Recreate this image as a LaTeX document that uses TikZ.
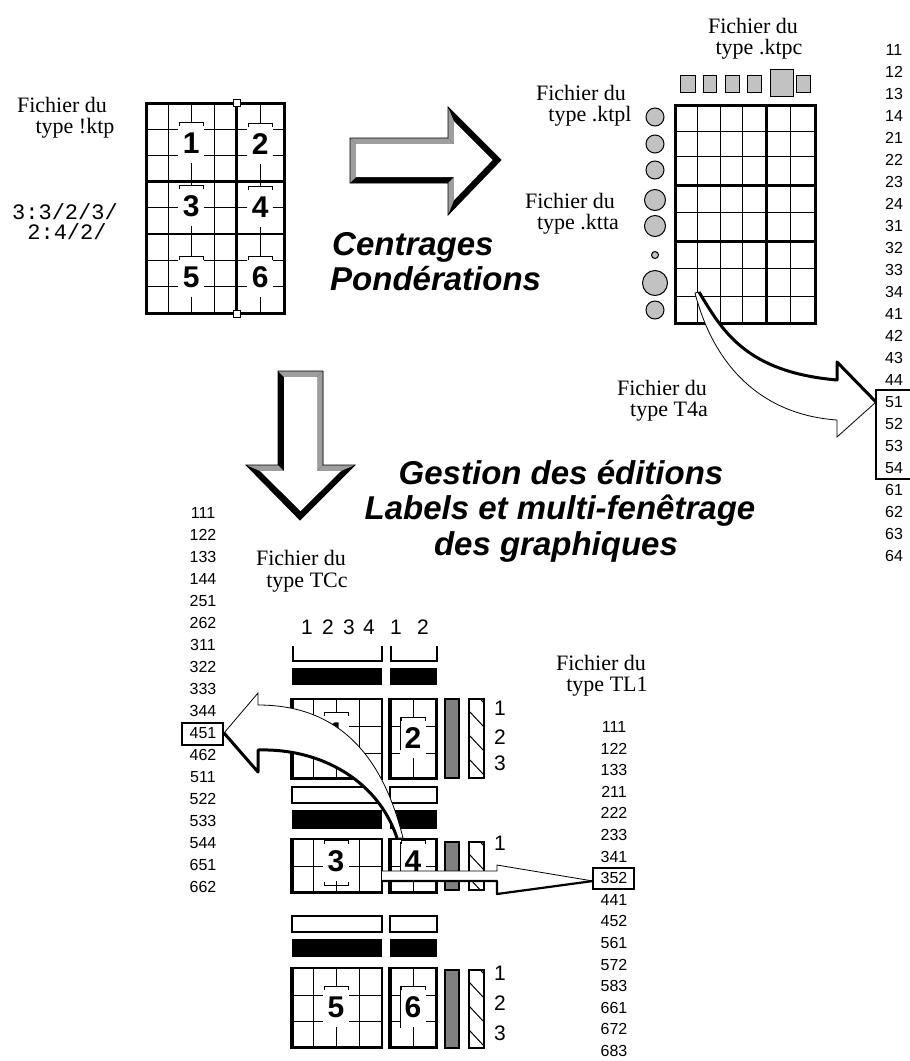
\documentclass[tikz,border=0pt]{standalone}
\usepackage{fontspec}
\setmainfont{Liberation Serif}
\setsansfont{Liberation Sans}
\setmonofont{Liberation Mono}
\definecolor{bevel}{gray}{0.62}
\definecolor{lgray}{gray}{0.76}
\definecolor{dgray}{gray}{0.5}
\newcommand{\gridlab}[4]{%
  \fill[white] (#2-13,#3-21) rectangle (#2+13,#3+20);
  \draw[line width=1pt] (#2-12,#3-17) -- (#2-12,#3-21) -- (#2+12,#3-21) -- (#2+12,#3-17);
  \node[lab] (#1) at (#2,#3) {#4};}
\newcommand{\hatchbar}[4]{%
  \fill[white] (#1,#2) rectangle (#3,#4);
  \begin{scope}\clip (#1,#2) rectangle (#3,#4);
  \foreach \k in {0,...,5} \draw[line width=1pt] (#1,#2-12+\k*24) -- ++(16,17);
  \end{scope}
  \draw[line width=1.2pt] (#1,#2) rectangle (#3,#4);}
\newcommand{\dotbar}[4]{\filldraw[fill=dgray, line width=1.2pt] (#1,#2) rectangle (#3,#4);}
\newcommand{\tcpanel}[4]{%
  \draw[line width=1.2pt] (#1,#3) rectangle (#2,#4);
  \draw[line width=3pt] (#1+1,#3) -- (#1+1,#4-1) -- (#2,#4-1);}
\begin{document}
\begin{tikzpicture}[x=1pt,y=-1pt,
  fich/.style={font=\fontsize{22}{21}\selectfont, inner sep=0, anchor=base},
  num/.style={font=\sffamily\fontsize{16}{16}\selectfont, inner sep=0},
  hdr/.style={font=\sffamily\fontsize{21}{21}\selectfont, inner sep=0},
  big/.style={font=\sffamily\bfseries\itshape\fontsize{33}{33}\selectfont, inner sep=0, anchor=base},
  lab/.style={font=\sffamily\bfseries\fontsize{30}{30}\selectfont, inner sep=0},
  mono/.style={font=\ttfamily\fontsize{22}{22}\selectfont, inner sep=0},
  thin/.style={line width=1pt}]
\useasboundingbox (0,0) rectangle (910,1061);
\fill[white] (0,0) rectangle (910,1061);

% ---------- top-left: !ktp ----------
\node[fich] (k1) at (62,112) {Fichier du};
\node[fich] (k2) at (75,133) {type !ktp};
\node[mono] (m1) at (65,212) {3:3/2/3/};
\node[mono] (m2) at (67,232) {2:4/2/};
\foreach \x in {168.7,191.3,214,260.3} \draw[thin] (\x,103)--(\x,313);
\foreach \y in {129.3,155.5,207.7,260.3,286.7} \draw[thin] (146,\y)--(284,\y);
\draw[line width=2.5pt] (146,181.5)--(284,181.5) (146,234)--(284,234);
\gridlab{l1}{191.3}{143}{1}
\gridlab{l2}{260.3}{144}{2}
\gridlab{l3}{191.3}{206}{3}
\gridlab{l4}{260.3}{207}{4}
\gridlab{l5}{191.3}{277}{5}
\gridlab{l6}{260.3}{277}{6}
\draw[line width=2.5pt] (236.7,103)--(236.7,313);
\draw[line width=3pt] (146,103) rectangle (284,313);
\draw[fill=white, line width=1pt] (233.5,99) rectangle (240,106);
\draw[fill=white, line width=1pt] (233.5,310) rectangle (240,317);

% ---------- right 3D arrow ----------
\fill[black] (350,138)--(448,138)--(448,107)--(501,160)--(448,215)--(448,183)--(350,183)--cycle;
\fill[bevel] (350,138)--(448,138)--(454,144)--(356,144)--cycle;
\fill[bevel] (350,138)--(356,144)--(356,177)--(350,183)--cycle;
\fill[bevel] (448,138)--(448,107)--(454,121.4)--(454,144)--cycle;
\fill[bevel] (448,183)--(448,215)--(454,200.2)--(454,177)--cycle;
\fill[white] (356,144)--(454,144)--(454,121.4)--(492.6,160)--(454,200.2)--(454,177)--(356,177)--cycle;
\draw[line width=0.8pt] (350,138)--(448,138)--(448,107)--(501,160)--(448,215)--(448,183)--(350,183)--cycle;
\node[big, anchor=base west] (c1) at (332,255) {Centrages};
\node[big, anchor=base west] (c2) at (330,290) {Pondérations};

% ---------- top-right: ktpc grid ----------
\node[fich] (p1) at (753,33) {Fichier du};
\node[fich] (p2) at (759,54) {type .ktpc};
\foreach \a/\b in {680.7/695,703/716.7,725/739.3,747/761.7,796.7/810.7}
  \filldraw[fill=lgray, line width=1pt] (\a,75) rectangle (\b,92);
\filldraw[fill=lgray, line width=1pt] (770,69) rectangle (793.3,96.7);
\node[fich] (q1) at (581,100) {Fichier du};
\node[fich] (q2) at (590,121) {type .ktpl};
\node[fich] (q3) at (570,208) {Fichier du};
\node[fich] (q4) at (578,229) {type .ktta};
\foreach \y/\r in {117/9,144/9,170/9,200/10.5,226/10.5,255/3.5,283/12.5,310/9}
  \filldraw[fill=lgray, line width=1pt] (655,\y) circle (\r);
\foreach \x in {697.7,720,742.3,790} \draw[thin] (\x,105)--(\x,323.3);
\foreach \y in {131,156.7,212.3,268.3,296.7} \draw[thin] (675,\y)--(815,\y);
\draw[line width=3pt] (766.7,105)--(766.7,323.3) (675,185.7)--(815,185.7) (675,241.7)--(815,241.7);
\draw[line width=3pt] (675,105) rectangle (815,323.3);

% ---------- right number column ----------
\foreach \t [count=\k from 0] in {11,12,13,14,21,22,23,24,31,32,33,34,41,42,43,44,51,52,53,54,61,62,63,64}
  \node[num] (ra\t) at (894,50+22*\k) {\t};
\draw[line width=1.2pt] (912,390) -- (876,390) -- (876,479) -- (912,479);

% ---------- curved arrow to T4a ----------
\coordinate (ta) at (699,292);
\coordinate (tb) at (837,380);
\coordinate (tc) at (837,420);
\coordinate (td) at (695,293);
\fill[white] (ta) .. controls (722,330) and (745,372) .. (tb) -- (837,362) -- (876,402) -- (837,437) -- (tc)
  .. controls (765,415) and (715,370) .. (td) -- cycle;
\draw[line width=3pt, line join=round] (ta) .. controls (722,330) and (745,372) .. (tb) -- (837,362) -- (876,402);
\draw[line width=0.8pt] (876,402) -- (837,437) -- (tc) .. controls (765,415) and (715,370) .. (td) -- (ta);
\node[fich] (t1) at (662,395) {Fichier du};
\node[fich] (t2) at (669,416) {type T4a};

% ---------- down 3D arrow ----------
\fill[black] (278,371)--(323,371)--(323,465)--(355,465)--(300,520)--(246,465)--(278,465)--cycle;
\fill[bevel] (278,371)--(323,371)--(317,377)--(284,377)--cycle;
\fill[bevel] (323,371)--(323,465)--(317,471)--(317,377)--cycle;
\fill[bevel] (246,465)--(278,465)--(284,471)--(260,471)--cycle;
\fill[bevel] (323,465)--(355,465)--(341,471)--(317,471)--cycle;
\fill[white] (284,377)--(317,377)--(317,471)--(341,471)--(300.5,511)--(260,471)--(284,471)--cycle;
\draw[line width=0.8pt] (278,371)--(323,371)--(323,465)--(355,465)--(300,520)--(246,465)--(278,465)--cycle;

\node[big] (g1) at (561,484) {Gestion des éditions};
\node[big] (g2) at (560,519) {Labels et multi-fenêtrage};
\node[big] (g3) at (556,555) {des graphiques};

% ---------- TCc ----------
\node[fich] (tc1) at (301,565) {Fichier du};
\node[fich] (tc2) at (307,587) {type TCc};
\foreach \t [count=\k from 0] in {111,122,133,144,251,262,311,322,333,344,451,462,511,522,533,544,651,662}
  \node[num] (tc\t) at (203,513+22*\k) {\t};
\draw[line width=1.2pt] (182,723) rectangle (223,745);

\foreach \x/\t in {307/1,328/2,349/3,369/4,396/1,423/2} \node[hdr] at (\x,627) {\t};
\draw[line width=1.2pt] (293,646)--(293,661)--(382,661)--(382,646);
\draw[line width=1.2pt] (391,646)--(391,661)--(437,661)--(437,646);
\fill (292,668) rectangle (382,685);
\fill (390,668) rectangle (437,685);
% row A
\foreach \x in {313,336,359} \draw[thin] (\x,699)--(\x,779);
\foreach \y in {726,753} \draw[thin] (291,\y)--(382,\y) (389,\y)--(437,\y);
\draw[thin] (413,699)--(413,779);
\gridlab{b1}{336}{733}{1}
\gridlab{b2}{413}{738}{2}
\draw[thin] (400,717)--(400,750);
\tcpanel{291}{382}{699}{779}
\tcpanel{389}{437}{699}{779}
\draw[line width=3pt] (436,699)--(436,779);
\dotbar{445}{699}{459}{778}
\hatchbar{469}{699}{484}{778}
\foreach \y/\t in {708/1,737/2,763/3} \node[hdr] at (500,\y) {\t};
% row B
\draw[line width=1.2pt] (292,787) rectangle (382,803);
\draw[line width=1.2pt] (390,787) rectangle (437,803);
\fill (292,810) rectangle (382,829);
\fill (390,810) rectangle (437,829);
\foreach \x in {313,336,359} \draw[thin] (\x,839)--(\x,893);
\draw[thin] (291,866)--(382,866) (389,866)--(437,866) (413,839)--(413,893);
\gridlab{b3}{336}{861}{3}
\draw[thin] (324,882)--(324,885)--(348,885)--(348,882) (336,885)--(336,893);
\gridlab{b4}{413}{861}{4}
\draw[thin] (400,842)--(400,874);
\tcpanel{291}{382}{839}{893}
\tcpanel{389}{437}{839}{893}
\draw[line width=3pt] (436,839)--(436,893);
\dotbar{445}{842}{459}{890}
\hatchbar{469}{842}{484}{890}
\node[hdr] at (500,843) {1};
% row C
\draw[line width=1.2pt] (292,916) rectangle (382,932);
\draw[line width=1.2pt] (390,916) rectangle (437,932);
\fill (292,939) rectangle (382,957);
\fill (390,939) rectangle (437,957);
\foreach \x in {313,336,359} \draw[thin] (\x,968)--(\x,1048);
\foreach \y in {995,1021} \draw[thin] (291,\y)--(382,\y) (389,\y)--(437,\y);
\draw[thin] (413,968)--(413,1048);
\gridlab{b5}{336}{1007}{5}
\gridlab{b6}{413}{1007}{6}
\draw[thin] (400,986)--(400,1028);
\tcpanel{291}{382}{968}{1048}
\tcpanel{389}{437}{968}{1048}
\draw[line width=3pt] (436,968)--(436,1048);
\dotbar{445}{970}{459}{1048}
\hatchbar{469}{970}{484}{1048}
\foreach \y/\t in {973/1,1003/2,1033/3} \node[hdr] at (500,\y) {\t};

% ---------- TL1 ----------
\node[fich] (tl1) at (601,670) {Fichier du};
\node[fich] (tl2) at (607,691) {type TL1};
\foreach \t [count=\k from 0] in {111,122,133,211,222,233,341,352,441,452,561,572,583,661,672,683}
  \node[num] (tl\t) at (614,727+21.6*\k) {\t};
\draw[line width=1.2pt] (593,868) rectangle (634,889);

% ---------- curved arrow to 451 ----------
\coordinate (ua) at (258,705);
\coordinate (ub) at (403,838);
\coordinate (uc) at (397,838);
\coordinate (ud) at (258,750);
\fill[white] (ua) .. controls (330,705) and (380,745) .. (ub) -- (uc) .. controls (378,780) and (320,748) .. (ud)
  -- (258,772) -- (224,733) -- (258,693) -- cycle;
\draw[line width=0.8pt] (224,733) -- (258,693) -- (ua) .. controls (330,705) and (380,745) .. (ub) -- (uc);
\draw[line width=3pt, line join=round] (uc) .. controls (378,780) and (320,748) .. (ud) -- (258,772) -- (224,733);

% ---------- straight arrow to 352 ----------
\coordinate (sa) at (382,871);
\coordinate (sb) at (382,881);
\coordinate (st) at (593,881);
\fill[white] (sa) -- (497,871) -- (497,865) -- (st) -- (497,894) -- (497,881) -- (sb) -- cycle;
\draw[line width=0.8pt] (sa) -- (497,871) -- (497,865) -- (st);
\draw[line width=2.2pt, line join=round] (st) -- (497,894) -- (497,881) -- (sb);
\end{tikzpicture}
\end{document}
